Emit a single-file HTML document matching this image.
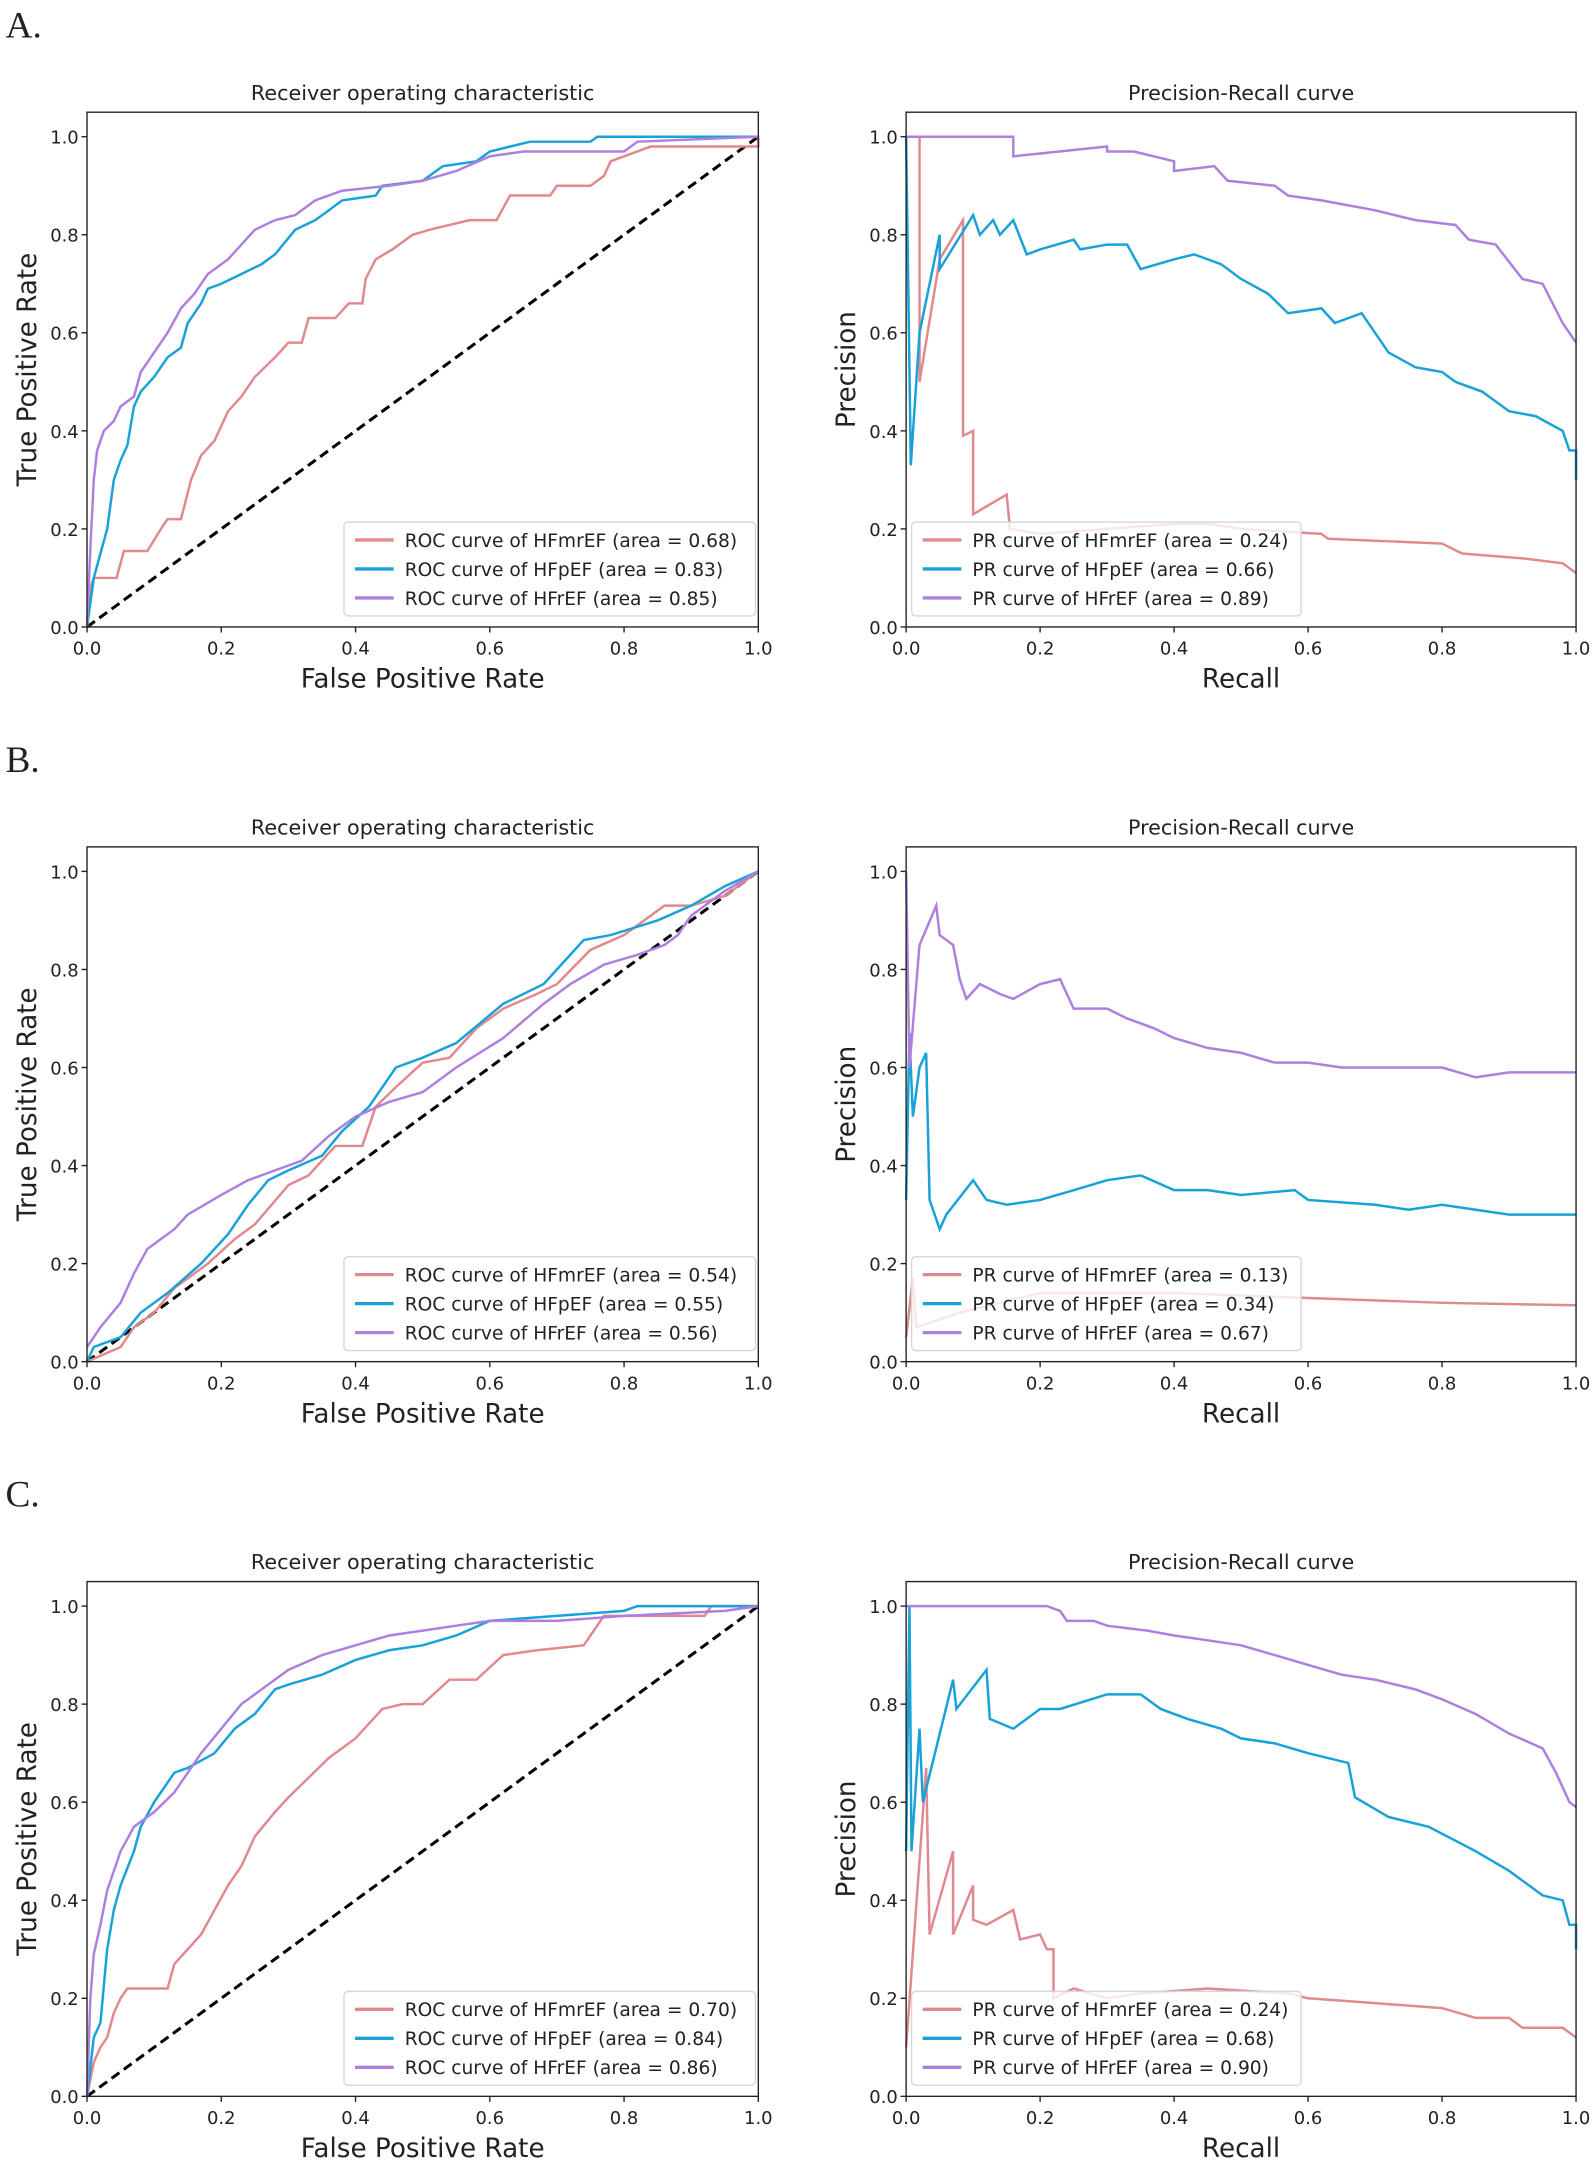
<!DOCTYPE html>
<html><head><meta charset="utf-8">
<style>
html,body{margin:0;padding:0;background:#fff;}
svg{display:block;}
text{font-family:"DejaVu Sans","Liberation Sans",sans-serif;fill:#222;}
.serif{font-family:"Liberation Serif",serif;}
</style></head>
<body>
<svg id="fig" width="1594" height="2164" viewBox="0 0 1154 1567" preserveAspectRatio="none" xmlns="http://www.w3.org/2000/svg"></svg>
<script>
// ---- data ----
const tickLabels = ["0.0","0.2","0.4","0.6","0.8","1.0"];
const tickValues = [0,0.2,0.4,0.6,0.8,1.0];
const seriesNames = ["HFmrEF","HFpEF","HFrEF"];
const rocAucA = ["0.68","0.83","0.85"];
const prAucA = ["0.24","0.66","0.89"];
const rocAucB = ["0.54","0.55","0.56"];
const prAucB = ["0.13","0.34","0.67"];
const rocAucC = ["0.70","0.84","0.86"];
const prAucC = ["0.24","0.68","0.90"];

const rocA_mr = [[0,0],[0.005,0.08],[0.01,0.1],[0.044,0.1],[0.055,0.155],[0.09,0.155],[0.11,0.2],[0.12,0.22],[0.14,0.22],[0.155,0.3],[0.17,0.35],[0.19,0.38],[0.21,0.44],[0.23,0.47],[0.25,0.51],[0.28,0.55],[0.3,0.58],[0.32,0.58],[0.33,0.63],[0.37,0.63],[0.39,0.66],[0.41,0.66],[0.415,0.71],[0.43,0.75],[0.455,0.77],[0.485,0.8],[0.51,0.81],[0.54,0.82],[0.57,0.83],[0.61,0.83],[0.63,0.88],[0.69,0.88],[0.7,0.9],[0.75,0.9],[0.77,0.92],[0.78,0.95],[0.8,0.96],[0.84,0.98],[1,0.98],[1,1]];
const rocA_p = [[0,0],[0.01,0.1],[0.02,0.15],[0.03,0.2],[0.04,0.3],[0.05,0.34],[0.06,0.37],[0.07,0.45],[0.08,0.48],[0.1,0.51],[0.12,0.55],[0.14,0.57],[0.15,0.62],[0.17,0.66],[0.18,0.69],[0.2,0.7],[0.23,0.72],[0.26,0.74],[0.28,0.76],[0.31,0.81],[0.34,0.83],[0.36,0.85],[0.38,0.87],[0.43,0.88],[0.44,0.9],[0.5,0.91],[0.53,0.94],[0.58,0.95],[0.6,0.97],[0.66,0.99],[0.75,0.99],[0.76,1.0],[1,1]];
const rocA_r = [[0,0],[0.005,0.16],[0.01,0.3],[0.015,0.36],[0.025,0.4],[0.04,0.42],[0.05,0.45],[0.07,0.47],[0.08,0.52],[0.1,0.56],[0.12,0.6],[0.14,0.65],[0.16,0.68],[0.18,0.72],[0.21,0.75],[0.23,0.78],[0.25,0.81],[0.28,0.83],[0.31,0.84],[0.34,0.87],[0.38,0.89],[0.45,0.9],[0.5,0.91],[0.55,0.93],[0.6,0.96],[0.65,0.97],[0.8,0.97],[0.82,0.99],[1,1]];
const prA_mr = [[0.01,1],[0.02,1],[0.02,0.5],[0.05,0.75],[0.085,0.83],[0.085,0.39],[0.1,0.4],[0.1,0.23],[0.15,0.27],[0.155,0.2],[0.2,0.19],[0.4,0.21],[0.45,0.21],[0.5,0.2],[0.62,0.19],[0.63,0.18],[0.8,0.17],[0.83,0.15],[0.92,0.14],[0.98,0.13],[1,0.11]];
const prA_p = [[0,1],[0.007,0.33],[0.02,0.6],[0.05,0.8],[0.05,0.73],[0.1,0.84],[0.11,0.8],[0.13,0.83],[0.14,0.8],[0.16,0.83],[0.18,0.76],[0.2,0.77],[0.25,0.79],[0.26,0.77],[0.3,0.78],[0.33,0.78],[0.35,0.73],[0.4,0.75],[0.43,0.76],[0.47,0.74],[0.5,0.71],[0.54,0.68],[0.57,0.64],[0.62,0.65],[0.64,0.62],[0.68,0.64],[0.72,0.56],[0.76,0.53],[0.8,0.52],[0.82,0.5],[0.86,0.48],[0.9,0.44],[0.94,0.43],[0.98,0.4],[0.99,0.36],[1,0.36],[1,0.3]];
const prA_r = [[0,1],[0.16,1],[0.16,0.96],[0.3,0.98],[0.3,0.97],[0.34,0.97],[0.4,0.95],[0.4,0.93],[0.46,0.94],[0.48,0.91],[0.55,0.9],[0.57,0.88],[0.62,0.87],[0.7,0.85],[0.76,0.83],[0.82,0.82],[0.84,0.79],[0.88,0.78],[0.92,0.71],[0.95,0.7],[0.98,0.62],[1,0.58]];

const rocB_mr = [[0,0],[0.05,0.03],[0.07,0.07],[0.1,0.1],[0.13,0.15],[0.18,0.2],[0.22,0.25],[0.25,0.28],[0.3,0.36],[0.33,0.38],[0.37,0.44],[0.41,0.44],[0.43,0.52],[0.46,0.56],[0.5,0.61],[0.54,0.62],[0.58,0.68],[0.62,0.72],[0.67,0.75],[0.7,0.77],[0.75,0.84],[0.8,0.87],[0.86,0.93],[0.9,0.93],[0.95,0.95],[1,1]];
const rocB_p = [[0,0],[0.01,0.03],[0.05,0.05],[0.08,0.1],[0.12,0.14],[0.17,0.2],[0.21,0.26],[0.24,0.32],[0.27,0.37],[0.3,0.39],[0.35,0.42],[0.38,0.47],[0.42,0.52],[0.46,0.6],[0.5,0.62],[0.55,0.65],[0.62,0.73],[0.68,0.77],[0.74,0.86],[0.78,0.87],[0.85,0.9],[0.9,0.93],[0.95,0.97],[1,1]];
const rocB_r = [[0,0.03],[0.02,0.07],[0.05,0.12],[0.07,0.18],[0.09,0.23],[0.13,0.27],[0.15,0.3],[0.2,0.34],[0.24,0.37],[0.28,0.39],[0.32,0.41],[0.36,0.46],[0.4,0.5],[0.45,0.53],[0.5,0.55],[0.55,0.6],[0.62,0.66],[0.68,0.73],[0.72,0.77],[0.77,0.81],[0.82,0.83],[0.86,0.85],[0.88,0.87],[0.9,0.91],[0.95,0.96],[1,1]];
const prB_mr = [[0,0.05],[0.01,0.17],[0.015,0.07],[0.08,0.1],[0.2,0.14],[0.4,0.14],[0.6,0.13],[0.8,0.12],[1,0.115]];
const prB_p = [[0,0.33],[0.005,0.67],[0.01,0.5],[0.02,0.6],[0.03,0.63],[0.035,0.33],[0.05,0.27],[0.06,0.3],[0.1,0.37],[0.12,0.33],[0.15,0.32],[0.2,0.33],[0.25,0.35],[0.3,0.37],[0.35,0.38],[0.4,0.35],[0.45,0.35],[0.5,0.34],[0.58,0.35],[0.6,0.33],[0.7,0.32],[0.75,0.31],[0.8,0.32],[0.85,0.31],[0.9,0.3],[1,0.3]];
const prB_r = [[0,1],[0.005,0.6],[0.02,0.85],[0.045,0.93],[0.05,0.87],[0.07,0.85],[0.08,0.78],[0.09,0.74],[0.11,0.77],[0.14,0.75],[0.16,0.74],[0.2,0.77],[0.23,0.78],[0.25,0.72],[0.3,0.72],[0.33,0.7],[0.37,0.68],[0.4,0.66],[0.45,0.64],[0.5,0.63],[0.55,0.61],[0.6,0.61],[0.65,0.6],[0.7,0.6],[0.8,0.6],[0.85,0.58],[0.9,0.59],[1,0.59]];

const rocC_mr = [[0,0],[0.01,0.07],[0.02,0.1],[0.03,0.12],[0.04,0.17],[0.05,0.2],[0.06,0.22],[0.12,0.22],[0.13,0.27],[0.15,0.3],[0.17,0.33],[0.19,0.38],[0.21,0.43],[0.23,0.47],[0.25,0.53],[0.28,0.58],[0.3,0.61],[0.33,0.65],[0.36,0.69],[0.4,0.73],[0.44,0.79],[0.47,0.8],[0.5,0.8],[0.54,0.85],[0.58,0.85],[0.62,0.9],[0.67,0.91],[0.74,0.92],[0.77,0.98],[0.92,0.98],[0.93,1],[1,1]];
const rocC_p = [[0,0],[0.01,0.12],[0.02,0.15],[0.03,0.3],[0.04,0.38],[0.05,0.43],[0.07,0.5],[0.08,0.55],[0.1,0.6],[0.13,0.66],[0.15,0.67],[0.19,0.7],[0.22,0.75],[0.25,0.78],[0.28,0.83],[0.3,0.84],[0.35,0.86],[0.4,0.89],[0.45,0.91],[0.5,0.92],[0.55,0.94],[0.6,0.97],[0.8,0.99],[0.82,1],[1,1]];
const rocC_r = [[0,0],[0.005,0.2],[0.01,0.29],[0.02,0.35],[0.03,0.42],[0.05,0.5],[0.07,0.55],[0.1,0.58],[0.13,0.62],[0.15,0.66],[0.17,0.7],[0.2,0.75],[0.23,0.8],[0.27,0.84],[0.3,0.87],[0.35,0.9],[0.4,0.92],[0.45,0.94],[0.5,0.95],[0.55,0.96],[0.6,0.97],[0.7,0.97],[0.8,0.98],[0.95,0.99],[1,1]];
const prC_mr = [[0,0.1],[0.03,0.67],[0.035,0.33],[0.07,0.5],[0.07,0.33],[0.1,0.43],[0.1,0.36],[0.12,0.35],[0.16,0.38],[0.17,0.32],[0.2,0.33],[0.21,0.3],[0.22,0.3],[0.22,0.2],[0.25,0.22],[0.3,0.2],[0.35,0.21],[0.45,0.22],[0.57,0.21],[0.6,0.2],[0.7,0.19],[0.8,0.18],[0.85,0.16],[0.9,0.16],[0.92,0.14],[0.98,0.14],[1,0.12]];
const prC_p = [[0,0.5],[0.005,1],[0.008,0.5],[0.02,0.75],[0.025,0.6],[0.07,0.85],[0.075,0.79],[0.12,0.87],[0.125,0.77],[0.16,0.75],[0.2,0.79],[0.23,0.79],[0.3,0.82],[0.35,0.82],[0.38,0.79],[0.42,0.77],[0.47,0.75],[0.5,0.73],[0.55,0.72],[0.6,0.7],[0.66,0.68],[0.67,0.61],[0.72,0.57],[0.78,0.55],[0.85,0.5],[0.9,0.46],[0.95,0.41],[0.98,0.4],[0.99,0.35],[1,0.35],[1,0.3]];
const prC_r = [[0,1],[0.21,1],[0.23,0.99],[0.24,0.97],[0.28,0.97],[0.3,0.96],[0.36,0.95],[0.4,0.94],[0.45,0.93],[0.5,0.92],[0.55,0.9],[0.6,0.88],[0.65,0.86],[0.7,0.85],[0.76,0.83],[0.8,0.81],[0.85,0.78],[0.9,0.74],[0.95,0.71],[0.97,0.66],[0.99,0.6],[1,0.59]];

// ---- drawing ----
const NS = "http://www.w3.org/2000/svg";
const svg = document.getElementById("fig");
const colors = ["#e0898e","#1aa2d8","#ad80e0"];
function mk(tag, attrs, parent){
  const e = document.createElementNS(NS, tag);
  for (const k in attrs) e.setAttribute(k, attrs[k]);
  (parent||svg).appendChild(e);
  return e;
}
function panel(opts){
  const x0=opts.x0, x1=opts.x1, yb=opts.yb, yt=opts.yb-355;
  const sx = v => x0 + v*(x1-x0);
  const sy = v => yb - v*(yb-yt);
  const g = mk("g", {});
  
  
  const clipId = opts.name+"-clip";
  const cp = mk("clipPath",{id:clipId},g);
  mk("rect",{x:x0-2,y:sy(1.05),width:x1-x0+4,height:sy(0)-sy(1.05)+2},cp);
  const t = mk("text",{x:(x0+x1)/2,y:sy(1.05)-9,"text-anchor":"middle","font-size":"15"},g);
  t.textContent = opts.title;
  
  
  tickValues.forEach((v,i)=>{
    mk("line",{x1:x0-4,x2:x0,y1:sy(v),y2:sy(v),stroke:"#222","stroke-width":1},g);
    mk("line",{x1:sx(v),x2:sx(v),y1:yb,y2:yb+4,stroke:"#222","stroke-width":1},g);
    const ty = mk("text",{x:x0-6,y:sy(v)+5,"text-anchor":"end","font-size":"13"},g);
    ty.textContent = tickLabels[i];
    
    
    const tx = mk("text",{x:sx(v),y:yb+20,"text-anchor":"middle","font-size":"13"},g);
    tx.textContent = tickLabels[i];
    
    
  });
  const xl = mk("text",{x:(x0+x1)/2,y:yb+44,"text-anchor":"middle","font-size":"19","font-family":"Liberation Sans, sans-serif"},g);
  xl.textContent = opts.xlabel;
  
  
  const lx = x0-37, ly=(sy(0)+sy(1.05))/2;
  const yl = mk("text",{x:lx,y:ly,"text-anchor":"middle","font-size":"19","font-family":"Liberation Sans, sans-serif",transform:`rotate(-90 ${lx} ${ly})`},g);
  yl.textContent = opts.ylabel;
  
  
  const plot = mk("g",{"clip-path":`url(#${clipId})`},g);
  if (opts.diag){
    const d = mk("line",{x1:sx(0),y1:sy(0),x2:sx(1),y2:sy(1),stroke:"#000","stroke-width":2.2,"stroke-dasharray":"7,4"},plot);
    
    
  }
  opts.series.forEach((s,i)=>{
    const p = mk("polyline",{points:s.map(q=>sx(q[0]).toFixed(1)+","+sy(q[1]).toFixed(1)).join(" "),fill:"none",stroke:colors[i],"stroke-width":1.8,"stroke-linejoin":"miter"},plot);
    
    
  });
  mk("rect",{x:x0,y:sy(1.05),width:x1-x0,height:sy(0)-sy(1.05),fill:"none",stroke:"#222","stroke-width":1},g);
  // legend
  const lw = opts.legendW, lxr = opts.legendLeft ? x0+4 : x1-lw-2;
  const ltop = yb-76;
  const lg = mk("g",{},g);
  
  
  mk("rect",{x:lxr,y:ltop,width:lw,height:68,rx:3,fill:"#fff","fill-opacity":0.8,stroke:"#d6d6d6","stroke-width":1},lg);
  seriesNames.forEach((n,i)=>{
    const ry = ltop+13+i*21;
    const ln = mk("line",{x1:lxr+8,x2:lxr+36,y1:ry,y2:ry,stroke:colors[i],"stroke-width":2.4},lg);
    
    
    const tt = mk("text",{x:lxr+44,y:ry+5,"font-size":"13.5"},lg);
    tt.textContent = `${opts.prefix} curve of ${n} (area = ${opts.auc[i]})`;
    
    
  });
}
const rows = [
  {letter:"A.", off:0, roc:[rocA_mr,rocA_p,rocA_r], pr:[prA_mr,prA_p,prA_r], rocAuc:rocAucA, prAuc:prAucA},
  {letter:"B.", off:532, roc:[rocB_mr,rocB_p,rocB_r], pr:[prB_mr,prB_p,prB_r], rocAuc:rocAucB, prAuc:prAucB},
  {letter:"C.", off:1064, roc:[rocC_mr,rocC_p,rocC_r], pr:[prC_mr,prC_p,prC_r], rocAuc:rocAucC, prAuc:prAucC}
];
rows.forEach((r,k)=>{
  const L = mk("text",{x:4,y:27+r.off,"font-size":"27",class:"serif","font-family":"Liberation Serif, serif"});
  L.textContent = r.letter;
  
  
  panel({name:"roc-chart-"+k, x0:63, x1:549, yb:454+r.off, title:"Receiver operating characteristic", xlabel:"False Positive Rate", ylabel:"True Positive Rate", diag:true, series:r.roc, prefix:"ROC", auc:r.rocAuc, legendW:298, legendLeft:false});
  panel({name:"pr-chart-"+k, x0:656, x1:1141, yb:454+r.off, title:"Precision-Recall curve", xlabel:"Recall", ylabel:"Precision", diag:false, series:r.pr, prefix:"PR", auc:r.prAuc, legendW:282, legendLeft:true});
});
</script>
</body></html>
